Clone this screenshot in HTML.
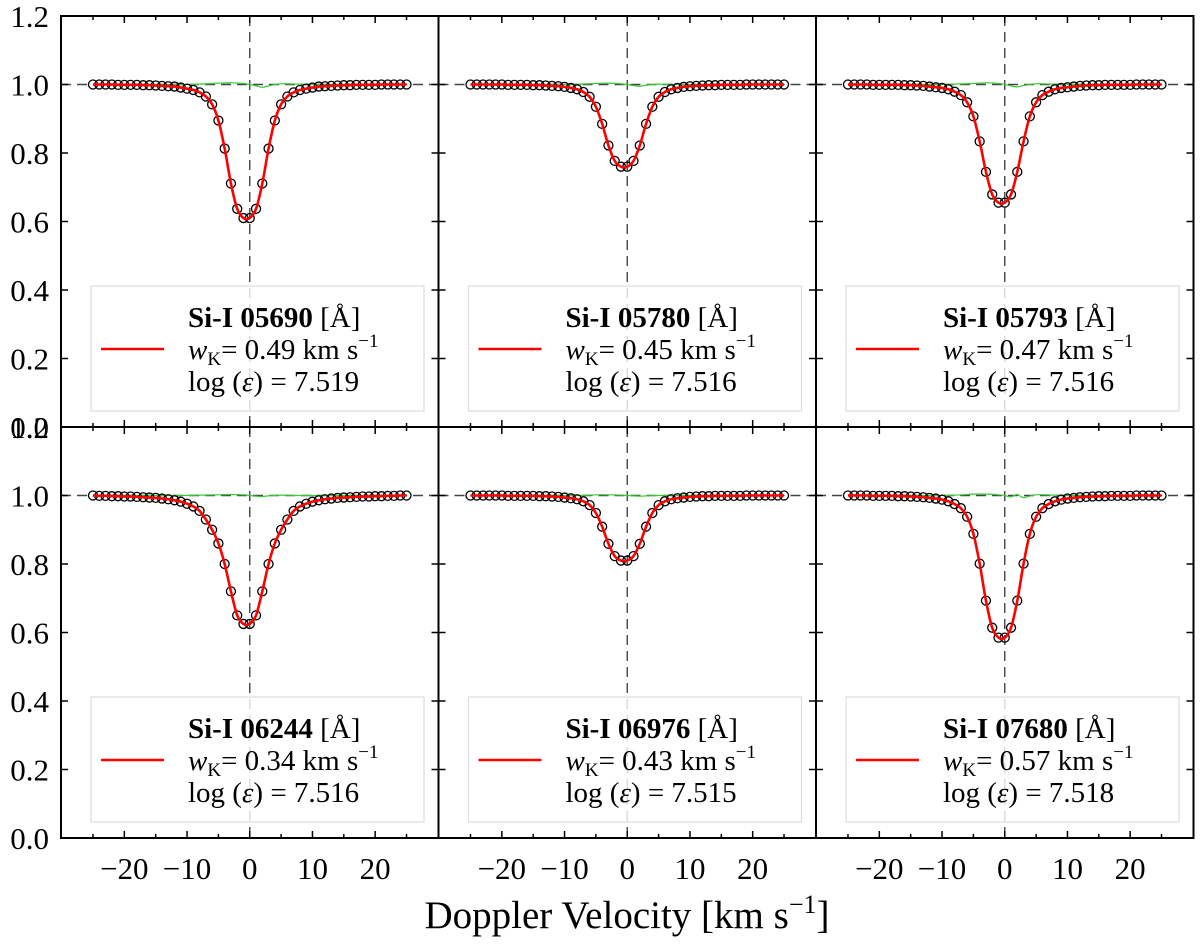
<!DOCTYPE html>
<html><head><meta charset="utf-8">
<style>
html,body{margin:0;padding:0;background:#fff;}
svg text{font-family:"Liberation Serif",serif;fill:#000;}
</style></head>
<body>
<svg id="fig" width="1200" height="945" viewBox="0 0 1200 945" xmlns="http://www.w3.org/2000/svg"></svg>
<script>
const velocities=[-25,-24,-23,-22,-21,-20,-19,-18,-17,-16,-15,-14,-13,-12,-11,-10,-9,-8,-7,-6,-5,-4,-3,-2,-1,0,1,2,3,4,5,6,7,8,9,10,11,12,13,14,15,16,17,18,19,20,21,22,23,24,25];
const flux1=[1,1,1,1,0.999,0.999,0.999,0.999,0.998,0.998,0.997,0.996,0.995,0.994,0.991,0.988,0.984,0.977,0.965,0.942,0.895,0.813,0.711,0.637,0.61,0.61,0.637,0.711,0.813,0.895,0.942,0.965,0.977,0.984,0.988,0.991,0.994,0.995,0.996,0.997,0.998,0.998,0.999,0.999,0.999,0.999,1,1,1,1,1];
const flux2=[1,1,1,1,1,1,0.999,0.999,0.999,0.999,0.998,0.998,0.997,0.996,0.995,0.993,0.99,0.986,0.978,0.964,0.935,0.885,0.822,0.777,0.76,0.76,0.777,0.822,0.885,0.935,0.964,0.978,0.986,0.99,0.993,0.995,0.996,0.997,0.998,0.998,0.999,0.999,0.999,0.999,1,1,1,1,1,1,1];
const flux3=[1,1,1,1,0.999,0.999,0.999,0.999,0.999,0.998,0.998,0.997,0.996,0.994,0.992,0.99,0.986,0.979,0.969,0.948,0.907,0.834,0.745,0.679,0.655,0.655,0.679,0.745,0.834,0.907,0.948,0.969,0.979,0.986,0.99,0.992,0.994,0.996,0.997,0.998,0.998,0.999,0.999,0.999,0.999,0.999,1,1,1,1,1];
const flux4=[1,0.999,0.999,0.998,0.998,0.997,0.997,0.996,0.995,0.994,0.993,0.991,0.989,0.986,0.982,0.976,0.968,0.955,0.93,0.9,0.86,0.8,0.72,0.65,0.625,0.625,0.65,0.72,0.8,0.86,0.9,0.93,0.955,0.968,0.976,0.982,0.986,0.989,0.991,0.993,0.994,0.995,0.996,0.997,0.997,0.998,0.998,0.999,0.999,1,1];
const flux5=[1,1,1,1,1,1,0.999,0.999,0.999,0.999,0.999,0.998,0.998,0.997,0.996,0.994,0.992,0.989,0.983,0.972,0.949,0.909,0.859,0.823,0.81,0.81,0.823,0.859,0.909,0.949,0.972,0.983,0.989,0.992,0.994,0.996,0.997,0.998,0.998,0.999,0.999,0.999,0.999,0.999,1,1,1,1,1,1,1];
const flux6=[1,1,1,1,0.999,0.999,0.999,0.999,0.998,0.998,0.997,0.996,0.995,0.993,0.991,0.988,0.983,0.975,0.963,0.938,0.888,0.801,0.693,0.614,0.585,0.585,0.614,0.693,0.801,0.888,0.938,0.963,0.975,0.983,0.988,0.991,0.993,0.995,0.996,0.997,0.998,0.998,0.999,0.999,0.999,0.999,1,1,1,1,1];
const resVel=[-25,-12,-8,-5,-3,-1,0,1,2,3,5,8,12,25];
const res1=[1,1,1.001,1.004,1.005,1.003,1.0,0.996,0.992,0.996,1.002,1.001,1,1];
const res2=[1,1,1.001,1.003,1.004,1.002,1.0,0.997,0.995,0.998,1.001,1.0,1,1];
const res3=[1,1,1.001,1.003,1.005,1.003,1.0,0.996,0.993,0.997,1.002,1.001,1,1];
const res4=[1,1,1.001,1.002,1.003,1.002,1.0,0.998,0.997,0.999,1.001,1.0,1,1];
const res5=[1,1,1.0,1.002,1.002,1.001,1.0,0.999,0.998,0.999,1.0,1.0,1,1];
const res6=[1,1,1.001,1.004,1.004,1.002,1.0,0.996,1.003,0.994,1.002,1.001,1,1];
const lineNames=["05690","05780","05793","06244","06976","07680"];
const wkValues=["0.49","0.45","0.47","0.34","0.43","0.57"];
const logEps=["7.519","7.516","7.516","7.516","7.515","7.518"];
const yTicks=[0,0.2,0.4,0.6,0.8,1.0,1.2];
const xTicks=[-20,-10,0,10,20];
const fluxes=[flux1,flux2,flux3,flux4,flux5,flux6];
const residuals=[res1,res2,res3,res4,res5,res6];

const NS="http://www.w3.org/2000/svg";
const svg=document.getElementById('fig');
function mk(tag,attrs,parent){const e=document.createElementNS(NS,tag);for(const k in attrs)e.setAttribute(k,attrs[k]);(parent||svg).appendChild(e);return e;}
const panelX=[61,438.5,816], panelY=[16,427], PW=377.5, PH=411;
const XMIN=-30.1, XMAX=30.1, YMIN=0, YMAX=1.2;
function smoothPath(pts){let d=`M${pts[0][0]},${pts[0][1]}`;for(let i=0;i<pts.length-1;i++){const p0=pts[Math.max(0,i-1)],p1=pts[i],p2=pts[i+1],p3=pts[Math.min(pts.length-1,i+2)];const c1x=p1[0]+(p2[0]-p0[0])/6,c1y=p1[1]+(p2[1]-p0[1])/6,c2x=p2[0]-(p3[0]-p1[0])/6,c2y=p2[1]-(p3[1]-p1[1])/6;d+=` C${c1x},${c1y} ${c2x},${c2y} ${p2[0]},${p2[1]}`;}return d;}

for(let p=0;p<6;p++){
  const col=p%3,row=Math.floor(p/3);
  const x0=panelX[col],y0=panelY[row];
  const sx=v=>x0+(v-XMIN)/(XMAX-XMIN)*PW;
  const sy=f=>y0+PH-(f-YMIN)/(YMAX-YMIN)*PH;
  const g=mk('g',{});
  
  
  const h=mk('line',{x1:x0,x2:x0+PW,y1:sy(1),y2:sy(1),stroke:'#444','stroke-width':1.4,'stroke-dasharray':'10,6'},g);
  
  
  const vl=mk('line',{x1:sx(0),x2:sx(0),y1:y0,y2:y0+PH,stroke:'#444','stroke-width':1.4,'stroke-dasharray':'10,6'},g);
  
  
  const gp=resVel.map((v,i)=>[sx(v),sy(residuals[p][i])]);
  const gr=mk('path',{d:smoothPath(gp),fill:'none',stroke:'#3c3','stroke-width':1.2},g);
  
  
  velocities.forEach((v,i)=>{const c=mk('circle',{cx:sx(v),cy:sy(fluxes[p][i]),r:4.5,fill:'none',stroke:'#000','stroke-width':1.3},g);
    
    });
  const rp=velocities.map((v,i)=>[sx(v),sy(fluxes[p][i])]);
  const rl=mk('path',{d:smoothPath(rp),fill:'none',stroke:'#f00','stroke-width':2.6},g);
  
  
  const lg=mk('g',{},g);
  
  
  const lx=x0+30, ly=y0+270;
  mk('rect',{x:lx,y:ly,width:333,height:125,fill:'#fff','fill-opacity':0.8,stroke:'#ddd','stroke-width':1.2},lg);
  mk('line',{x1:lx+10,x2:lx+73,y1:ly+63,y2:ly+63,stroke:'#f00','stroke-width':2.6},lg);
  const t1=mk('text',{x:lx+97,y:ly+41,'font-size':29},lg);
  t1.innerHTML=`<tspan font-weight="bold">Si-I ${lineNames[p]}</tspan> [Å]`;
  
  
  const t2=mk('text',{x:lx+97,y:ly+73,'font-size':29},lg);
  t2.innerHTML=`<tspan font-style="italic">w</tspan><tspan font-size="19" dy="6">K</tspan><tspan dy="-6">= ${wkValues[p]} km s</tspan><tspan font-size="19" dy="-12">−1</tspan>`;
  
  
  const t3=mk('text',{x:lx+97,y:ly+105,'font-size':29},lg);
  t3.innerHTML=`log (<tspan font-style="italic">ε</tspan>) = ${logEps[p]}`;
  
  
  const fr=mk('rect',{x:x0,y:y0,width:PW,height:PH,fill:'none',stroke:'#000','stroke-width':2},g);
  
  
  for(let v=-25;v<=25;v+=5){const major=v%10===0;const L=major?7:4;
    mk('line',{x1:sx(v),x2:sx(v),y1:y0+PH,y2:y0+PH-L,stroke:'#000','stroke-width':1.5},g);
    mk('line',{x1:sx(v),x2:sx(v),y1:y0,y2:y0+L,stroke:'#000','stroke-width':1.5},g);}
  yTicks.forEach(t=>{mk('line',{x1:x0,x2:x0+7,y1:sy(t),y2:sy(t),stroke:'#000','stroke-width':1.5},g);
    mk('line',{x1:x0+PW,x2:x0+PW-7,y1:sy(t),y2:sy(t),stroke:'#000','stroke-width':1.5},g);});
  if(col===0){yTicks.forEach(t=>{const tx=mk('text',{x:x0-12,y:sy(t)+11,'font-size':31,'text-anchor':'end'},g);tx.textContent=t.toFixed(1);
    
    });}
  if(row===1){xTicks.forEach(t=>{const tx=mk('text',{x:sx(t),y:y0+PH+41,'font-size':31,'text-anchor':'middle'},g);tx.textContent=(t<0?'−':'')+Math.abs(t);
    
    });}
}
const xt=mk('text',{x:627,y:928,'font-size':39,'text-anchor':'middle'});
xt.innerHTML='Doppler Velocity [km s<tspan font-size="26" dy="-15">−1</tspan><tspan dy="15">]</tspan>';


</script>
</body></html>
